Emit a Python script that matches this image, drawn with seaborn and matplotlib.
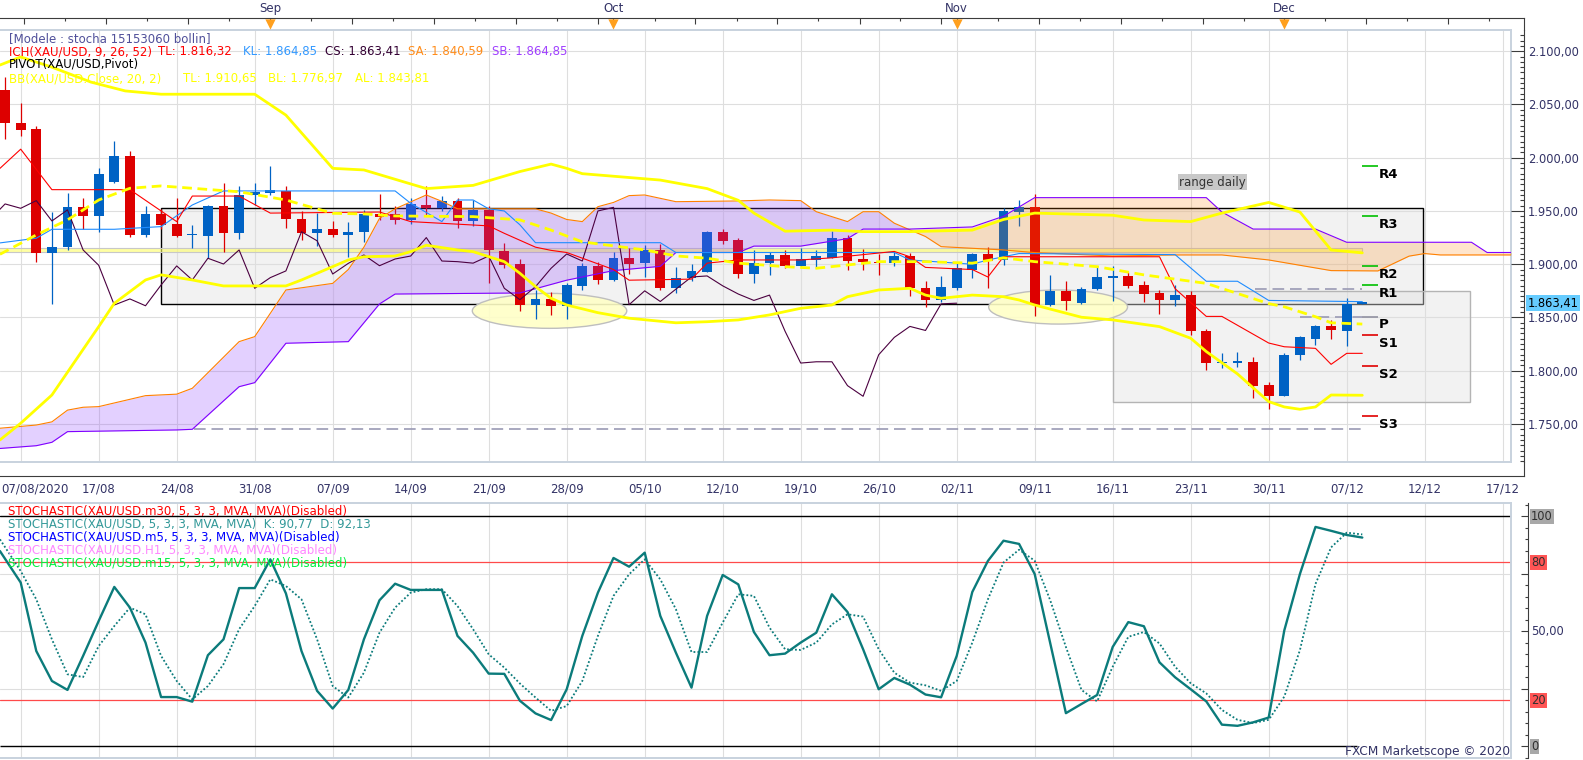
import numpy as np
import matplotlib
matplotlib.use("Agg")
import matplotlib.pyplot as plt
import matplotlib.transforms as mtrans
from matplotlib.patches import Rectangle, Ellipse
import seaborn as sns

# daily XAU/USD candles, index 0 = 07/08/2020, last = 08/12/2020
opens = [2063.6, 2032.9, 2027.0, 1910.8, 1915.9, 1953.3, 1944.8, 1977.5, 2001.6, 1927.5,
         1947.2, 1937.8, 1927.0, 1926.8, 1955.0, 1929.6, 1965.0, 1967.0, 1968.8, 1942.0,
         1929.6, 1932.7, 1927.5, 1930.6, 1946.8, 1946.8, 1941.5, 1955.6, 1952.5, 1959.7,
         1940.6, 1951.0, 1912.4, 1900.0, 1861.7, 1867.4, 1861.0, 1879.6, 1898.4, 1885.2,
         1905.6, 1900.8, 1913.4, 1877.4, 1886.8, 1893.0, 1930.5, 1922.8, 1890.8, 1900.8,
         1908.7, 1898.6, 1904.0, 1906.1, 1925.0, 1905.0, 1902.0, 1901.4, 1907.7, 1878.0,
         1866.7, 1878.0, 1894.6, 1909.6, 1904.0, 1949.4, 1953.4, 1862.0, 1875.0, 1864.0,
         1876.6, 1887.5, 1889.0, 1880.6, 1873.4, 1866.0, 1871.0, 1837.5, 1807.2, 1807.5,
         1808.4, 1787.0, 1776.0, 1814.4, 1830.0, 1841.6, 1837.5, 1862.9]
highs = [2076.2, 2051.0, 2030.0, 1949.0, 1966.5, 1962.5, 1990.8, 2016.0, 2006.0, 1954.7,
         1952.0, 1962.5, 1937.0, 1956.0, 1976.0, 1973.5, 1976.0, 1992.0, 1973.5, 1950.0,
         1947.8, 1941.0, 1940.0, 1951.0, 1966.0, 1955.0, 1962.5, 1973.0, 1964.0, 1962.5,
         1960.0, 1955.0, 1920.0, 1904.6, 1875.8, 1874.0, 1882.7, 1901.0, 1901.8, 1911.8,
         1915.0, 1918.0, 1919.0, 1897.7, 1900.0, 1931.0, 1933.0, 1925.0, 1913.4, 1911.8,
         1913.4, 1915.0, 1913.4, 1931.0, 1927.5, 1914.3, 1910.0, 1911.8, 1910.3, 1884.3,
         1889.0, 1900.9, 1910.9, 1916.0, 1952.5, 1960.0, 1965.6, 1890.0, 1884.4, 1879.0,
         1898.0, 1898.0, 1893.0, 1884.4, 1876.0, 1880.6, 1875.0, 1839.0, 1817.0, 1818.0,
         1813.0, 1789.0, 1817.0, 1832.2, 1843.0, 1848.0, 1868.0, 1863.6]
lows = [2017.6, 2020.0, 1902.0, 1863.0, 1913.0, 1933.0, 1930.5, 1976.0, 1926.0, 1926.0,
        1933.0, 1926.0, 1915.0, 1905.5, 1911.0, 1923.7, 1955.6, 1965.0, 1933.7, 1922.7,
        1917.5, 1926.0, 1906.4, 1921.0, 1941.5, 1938.0, 1937.8, 1945.0, 1950.0, 1933.7,
        1936.0, 1882.0, 1896.5, 1856.0, 1849.0, 1852.0, 1849.0, 1875.8, 1881.5, 1884.6,
        1890.8, 1888.0, 1875.8, 1873.3, 1884.0, 1893.0, 1919.0, 1887.4, 1882.7, 1889.9,
        1896.0, 1897.0, 1896.0, 1906.0, 1894.6, 1894.6, 1890.0, 1898.6, 1870.2, 1860.1,
        1864.8, 1875.8, 1887.4, 1877.4, 1899.4, 1936.0, 1851.0, 1861.0, 1857.0, 1862.5,
        1876.0, 1865.0, 1878.0, 1864.4, 1853.4, 1861.0, 1834.0, 1801.0, 1802.5, 1803.4,
        1774.0, 1764.0, 1776.0, 1810.3, 1824.4, 1829.7, 1822.8, 1862.9]
closes = [2032.3, 2026.0, 1910.8, 1916.0, 1953.3, 1944.8, 1985.0, 2001.6, 1927.5, 1947.2,
          1937.0, 1926.8, 1928.0, 1955.0, 1929.6, 1964.8, 1968.0, 1969.7, 1942.0, 1929.6,
          1932.7, 1927.5, 1930.6, 1946.8, 1944.7, 1941.5, 1956.6, 1952.5, 1959.7, 1940.6,
          1951.0, 1913.4, 1899.0, 1861.7, 1867.4, 1861.0, 1880.5, 1898.4, 1885.2, 1905.6,
          1900.2, 1913.4, 1877.4, 1887.4, 1893.7, 1930.5, 1922.0, 1890.8, 1900.8, 1908.7,
          1898.6, 1904.9, 1907.7, 1925.0, 1903.0, 1902.4, 1901.0, 1907.7, 1877.4, 1866.7,
          1878.9, 1896.2, 1909.6, 1903.0, 1950.0, 1953.4, 1862.0, 1875.0, 1865.0, 1876.6,
          1888.0, 1889.0, 1879.7, 1872.0, 1866.0, 1871.0, 1837.0, 1807.2, 1808.4, 1808.4,
          1786.0, 1776.0, 1815.0, 1831.3, 1841.6, 1837.8, 1862.8, 1863.41]

# ichimoku lines (day index, price)
tenkan_x = [-0.33, 1, 3, 8, 11, 12, 15, 17, 24, 26, 31, 32, 34, 35, 36, 39, 40, 44, 45, 47,
            51, 53, 57, 58, 59, 62, 63, 64, 74, 75, 77, 78, 81, 82, 84, 85, 86, 87]
tenkan_y = [1990, 2008, 1970, 1970, 1940, 1964, 1964, 1948, 1949, 1940, 1936, 1929, 1916, 1913,
            1911, 1895, 1885, 1886, 1901, 1904, 1904, 1906, 1912, 1907, 1897, 1895, 1888, 1907,
            1907, 1877, 1851, 1851, 1826, 1822.5, 1821, 1806, 1816.32, 1816.32]
kijun_x = [-0.33, 2, 3, 7, 10, 12, 14, 25, 26, 28, 29, 30, 31, 32, 33, 34, 42, 43, 57, 58,
           62, 63, 65, 75, 77, 79, 81, 87]
kijun_y = [1920, 1924.4, 1932.8, 1932.8, 1935.3, 1955.6, 1968.8, 1968.8, 1957.2, 1940,
           1960.3, 1960.3, 1952, 1950, 1937, 1920.2, 1920.2, 1911, 1911, 1904,
           1900, 1904, 1910, 1909, 1884, 1884, 1866, 1864.85]
span_a_x = [-0.33, 2, 3, 4, 5, 6, 9, 11, 12, 15, 16, 18, 21, 22, 23, 24, 25, 27, 28, 29,
            34, 35, 36, 37, 38, 39, 40, 41, 43, 47, 49, 51, 52, 54, 55, 56, 57, 59, 60, 64,
            66, 71, 75, 78, 81, 83, 85, 88, 90, 91, 92, 97]
span_a_y = [1746, 1749, 1752, 1763, 1765.7, 1766.3, 1776.6, 1778, 1783.5, 1827.3,
            1832, 1875.8, 1882, 1895, 1916, 1943, 1952, 1965, 1959, 1952,
            1952, 1948, 1942, 1940, 1954, 1958, 1964.4, 1965, 1958.7, 1959.4,
            1960.3, 1959.7, 1949.3, 1940, 1949.3, 1949.3, 1938.5, 1926, 1916.5, 1913.4,
            1910.9, 1907.7, 1908.7, 1908.7, 1904, 1899, 1894, 1893.7, 1907.6, 1910,
            1908.7, 1908.7]
span_b_x = [-0.33, 2, 3, 4, 11, 12, 15, 16, 18, 22, 24, 25, 33, 36, 39, 42, 43, 47, 48, 51,
            54, 55, 58, 62, 64, 66, 77, 78, 80, 84, 86, 94, 95, 97]
span_b_y = [1727, 1729.6, 1732.8, 1742.8, 1744.4, 1745, 1785, 1788.8, 1825.8, 1827.3,
            1862.7, 1872, 1873, 1885, 1894, 1898, 1911, 1911, 1917, 1917,
            1924, 1933, 1933, 1935, 1945, 1962.5, 1962.5, 1949, 1933, 1933,
            1920.6, 1920.6, 1911, 1911]

# bollinger bands (20, 2)
bb_up_x = [-0.33, 1, 3, 5.5, 7.7, 10, 16, 18, 21, 23, 27, 30, 33, 35, 36, 37, 42, 45, 47, 48,
           50, 53, 55, 58, 62, 64, 66, 71, 73, 76, 78, 81, 83, 85, 87]
bb_up_y = [2087, 2094.6, 2085, 2071, 2062.7, 2059.6, 2059.6, 2040, 1990, 1988.5,
           1971, 1974, 1987, 1994, 1990, 1985, 1979, 1971, 1960, 1948,
           1931, 1932, 1930.6, 1930.6, 1932, 1942, 1948, 1946, 1941.5, 1940,
           1948, 1958, 1949, 1913.4, 1910.65]
bb_lo_x = [-0.33, 1, 3, 6, 7, 9, 10, 12, 14, 18, 19, 22, 23, 25, 26, 27, 29, 30, 32, 33,
           34, 35, 36, 38, 40, 43, 45, 47, 49, 51, 53, 54, 56, 58, 59, 60, 61, 62, 64, 65,
           66, 69, 71, 74, 76, 77, 79, 81, 82, 83, 84, 85, 87]
bb_lo_y = [1735, 1750.7, 1777.2, 1841.4, 1863.3, 1885.2, 1890, 1885.2, 1879.6, 1879.6,
           1885.2, 1904, 1907, 1907.7, 1911.8, 1917.8, 1913.4, 1911.8, 1902.4, 1891.5,
           1879, 1868, 1861.7, 1854.5, 1849.3, 1845, 1846, 1847.7, 1852.4, 1858.6,
           1861.7, 1869.5, 1875.8, 1877.4, 1871, 1868, 1869.5, 1871, 1869.5, 1866.4,
           1861.7, 1850.2, 1847.7, 1841.4, 1830.5, 1818, 1797, 1771, 1766, 1763.8,
           1766, 1777.2, 1776.97]
bb_mid_x = [-0.33, 2, 4, 6, 8, 10, 15, 18, 21, 23, 25, 30, 33, 35, 37, 41, 43, 45, 47, 50,
            52, 54, 56, 59, 62, 64, 66, 70, 73, 77, 81, 82, 84, 85, 87]
bb_mid_y = [1909.3, 1927.5, 1941.6, 1960.3, 1971.3, 1973.5, 1968, 1960.3, 1947.8, 1947.2,
            1945.3, 1944.7, 1941.6, 1932, 1921, 1913.4, 1907.8, 1905.6, 1901, 1897.7,
            1896.2, 1899.3, 1902.4, 1902.4, 1901, 1906, 1902.4, 1897.7, 1890, 1882,
            1863, 1860, 1850.7, 1845, 1843.81]

# weekly pivot levels
pivot_names = ["R4", "R3", "R2", "R1", "P", "S1", "S2", "S3"]
pivot_vals = [1992.3, 1945.0, 1898.1, 1880.2, 1850.8, 1833.6, 1804.2, 1757.2]

# stochastic 5,3,3
stoch_x = [-0.33] + list(range(1, 88))
stoch_k = [84.9, 71.2, 41.4, 28.4, 24.5, 39.3, 54.5, 69.3, 60.3, 45.1,
           21.4, 21.4, 19.4, 39.6, 46.5, 68.8, 68.8, 81.3, 66.5, 41.4,
           24.1, 16.4, 24.5, 46.5, 63.5, 70.7, 68.0, 68.0, 68.0, 48.0,
           40.7, 31.6, 31.5, 19.8, 14.3, 11.4, 24.8, 48.0, 66.8, 81.9,
           78.1, 84.2, 56.7, 40.7, 25.5, 56.7, 74.5, 70.4, 49.7, 39.6,
           40.3, 45.1, 49.4, 66.1, 58.4, 42.2, 24.8, 29.7, 26.8, 22.5,
           21.3, 39.3, 67.1, 80.6, 89.4, 88.0, 74.9, 44.7, 14.4, 18.4,
           22.3, 43.2, 54.0, 52.2, 36.5, 30.0, 24.8, 19.5, 9.4, 8.9,
           10.4, 12.5, 50.4, 74.9, 95.4, 93.7, 91.9, 90.77]
stoch_d = [90.0, 76.2, 63.9, 46.5, 31.3, 30.1, 43.6, 52.3, 60.3, 57.4,
           39.3, 28.4, 20.4, 26.2, 35.7, 50.9, 61.0, 72.6, 69.7, 63.9,
           46.5, 26.2, 21.2, 32.0, 49.4, 60.3, 66.8, 68.3, 68.3, 61.0,
           50.9, 40.0, 34.2, 27.3, 21.2, 15.4, 17.5, 28.4, 48.0, 65.4,
           74.8, 81.3, 72.6, 59.6, 41.0, 41.0, 53.8, 66.1, 65.4, 51.6,
           42.2, 41.9, 45.1, 53.0, 57.4, 56.4, 42.2, 32.0, 27.7, 26.5,
           24.1, 28.4, 45.1, 63.9, 79.9, 85.5, 80.7, 63.4, 43.2, 24.5,
           19.5, 34.6, 47.6, 49.7, 44.7, 34.6, 27.4, 23.0, 15.8, 11.5,
           10.1, 11.5, 21.6, 41.8, 70.6, 86.5, 92.9, 92.13]

date_labels = ["07/08/2020", "17/08", "24/08", "31/08", "07/09", "14/09", "21/09", "28/09",
               "05/10", "12/10", "19/10", "26/10", "02/11", "09/11", "16/11", "23/11",
               "30/11", "07/12", "12/12", "17/12"]
month_names = ["Sep", "Oct", "Nov", "Dec"]
month_idx = [17, 39, 61, 82]

# drawn objects on the chart: (x0, x1, price0, price1)
range_box = (10.0, 90.9, 1862.6, 1953.1)
week_box = (71.0, 93.9, 1770.4, 1875.0)
# ellipses: (centre idx, centre price, width days, height price)
ellipses = [(34.9, 1856.2, 9.9, 32.8), (67.5, 1859.8, 8.9, 32.0)]

W, H = 1583, 760
sns.set_style("white")
plt.rcParams["font.family"] = ["DejaVu Sans"]
fig = plt.figure(figsize=(W / 100, H / 100), dpi=100)

TXT = "#333366"
AXC = "#3C3C3C"
FRAME = "#C8D2DE"
GRID = "#DEDEDE"
FS = 8.5


def box(x0, y0, x1, y1):
    return [x0 / W, 1 - y1 / H, (x1 - x0) / W, (y1 - y0) / H]


def ptext(x, y, s, **kw):
    kw.setdefault("va", "center")
    kw.setdefault("fontsize", FS)
    fig.text(x / W, 1 - y / H, s, **kw)


def line(a, xs, ys, color, lw, z, **kw):
    sns.lineplot(x=xs, y=ys, ax=a, color=color, lw=lw, estimator=None,
                 sort=False, zorder=z, **kw)


def eu(v):
    return f"{v:,.2f}".replace(",", "X").replace(".", ",").replace("X", ".")


X0 = -5.1 / 15.6
X1 = (1511 - 5.1) / 15.6
XR = (1524 - 5.1) / 15.6
PLO, PHI = 1714.3, 2119.9
week_ticks = [1 + 5 * k for k in range(20)]

# ---------------- price panel ----------------
ax = fig.add_axes(box(0, 30, 1511, 462))
ax.set_axisbelow(True)
ax.set_xticks(week_ticks)
ax.set_yticks(np.arange(1750, 2101, 50))
ax.set_xticklabels([])
ax.set_yticklabels([])
ax.tick_params(length=0)
ax.grid(True, color=GRID, lw=0.8)
for s in ax.spines.values():
    s.set_color(FRAME)
    s.set_linewidth(1.4)
ax.spines["left"].set_visible(False)

r = range_box
ax.add_patch(Rectangle((r[0], r[2]), r[1] - r[0], r[3] - r[2], fc=(0.88, 0.88, 0.88, 0.42),
                       ec="black", lw=1.0, zorder=1))
r = week_box
ax.add_patch(Rectangle((r[0], r[2]), r[1] - r[0], r[3] - r[2], fc=(0.88, 0.88, 0.88, 0.42),
                       ec="#B4B4B4", lw=1.0, zorder=1))
ax.add_patch(Rectangle((-1, 1911.6), 88, 3.8, fc=(1, 1, 0.4, 0.6), ec="#C8C8C8",
                       lw=0.8, zorder=1.2))
for cx, cy, ew, eh in ellipses:
    ax.add_patch(Ellipse((cx, cy), ew, eh, fc=(1, 1, 0.78, 0.9), ec="#BEBEBE", lw=1.0,
                         zorder=1.5))

dash = (0, (7, 3.5))
ax.hlines(1745, 12.1, 87, color="#9A9AB4", lw=1.2, linestyles=[dash], zorder=2)
ax.hlines(1876.5, 80.1, 87, color="#9A9AB4", lw=1.2, linestyles=[dash], zorder=2)
ax.hlines(1850.8, 83, 87, color="#9A9AB4", lw=1.2, linestyles=[dash], zorder=2)

# candles
idx = np.arange(len(closes))
o, c = np.array(opens), np.array(closes)
hi, lo = np.array(highs), np.array(lows)
col = np.where(c >= o, "#0062C4", "#DD0000")
ax.vlines(idx, lo, hi, colors=col, lw=0.9, zorder=3)
ax.bar(idx, np.maximum(np.abs(c - o), 1.2), bottom=np.minimum(o, c), width=0.64,
       color=col, lw=0, zorder=3)

# kumo
g = np.linspace(-1, 97, 3000)
sa = np.interp(g, span_a_x, span_a_y)
sb = np.interp(g, span_b_x, span_b_y)
ax.fill_between(g, sa, sb, where=sa >= sb, interpolate=True, color="#8C3CFF",
                alpha=0.24, lw=0, zorder=3.5)
ax.fill_between(g, sa, sb, where=sb > sa, interpolate=True, color="#FF8000",
                alpha=0.2, lw=0, zorder=3.5)

line(ax, span_a_x, span_a_y, "#FF8000", 0.8, 4)
line(ax, span_b_x, span_b_y, "#8000FF", 0.8, 4)
line(ax, list(idx[25:] - 26), closes[25:], "#4B0040", 0.8, 4)
line(ax, kijun_x, kijun_y, "#1E8CFF", 0.8, 4.1)
line(ax, tenkan_x, tenkan_y, "#FF0000", 0.8, 4.2)
line(ax, bb_up_x, bb_up_y, "#FFFF00", 2.0, 4.5)
line(ax, bb_lo_x, bb_lo_y, "#FFFF00", 2.0, 4.5)
line(ax, bb_mid_x, bb_mid_y, "#FFFF00", 2.0, 4.5, linestyle=(0, (3.5, 2)))

# pivots
for name, v in zip(pivot_names, pivot_vals):
    pc = "#00C000" if name.startswith("R") else ("#E00000" if name.startswith("S") else "#9090A0")
    ax.hlines(v, 87, 88, color=pc, lw=1.2, zorder=4)
    ax.text(88.07, v - 7.8, name, ha="left", va="center", fontsize=9.5, fontweight="bold",
            color="black", zorder=6)

ax.text(77.4, 1976.8, "range daily", ha="center", va="center", fontsize=FS, color="#333333",
        zorder=6, bbox=dict(fc="#C8C8C8", ec="none", pad=1.0))
ax.set_xlim(X0, X1)
ax.set_ylim(PLO, PHI)
ax.set_xlabel("")
ax.set_ylabel("")

# price scale
axr = fig.add_axes(box(1511, 30, 1524, 462))
axr.set_ylim(PLO, PHI)
axr.set_xticks([])
for s in ("left", "top", "bottom"):
    axr.spines[s].set_visible(False)
axr.spines["right"].set_color(AXC)
axr.yaxis.tick_right()
ylev = np.arange(1750, 2101, 50)
axr.set_yticks(ylev)
axr.set_yticklabels([eu(v) for v in ylev])
axr.set_yticks(np.arange(1715, 2120, 5), minor=True)
axr.tick_params(axis="y", which="major", direction="in", length=9.4, width=0.8, color=AXC,
                pad=3, labelsize=8.3, labelcolor=TXT)
axr.tick_params(axis="y", which="minor", direction="in", length=2.9, width=0.8, color=AXC)
axr.patch.set_alpha(0)
axr.text(1527.5 / W, closes[-1], eu(closes[-1]), ha="left", va="center", fontsize=8.3,
         color="black", transform=mtrans.blended_transform_factory(fig.transFigure, axr.transData),
         bbox=dict(fc="#66CCFF", ec="none", pad=1.0))

# date axis under price panel
axd = fig.add_axes(box(0, 462, 1524, 476))
axd.set_xlim(X0, XR)
axd.set_ylim(0, 1)
axd.set_yticks([])
for s in ("left", "top"):
    axd.spines[s].set_visible(False)
axd.spines["bottom"].set_color(AXC)
axd.spines["right"].set_color(AXC)
axd.set_xticks(week_ticks)
axd.set_xticklabels([""] + date_labels[1:])
axd.set_xticks(np.arange(-0.25, XR, 1.25), minor=True)
axd.tick_params(axis="x", which="major", direction="in", length=9.4, width=0.8, color=AXC,
                pad=5, labelsize=FS, labelcolor=TXT)
axd.tick_params(axis="x", which="minor", direction="in", length=3.6, width=0.8, color=AXC)
axd.patch.set_alpha(0)
ptext(1, 489, date_labels[0], ha="left", color=TXT)

# month axis on top
axt = fig.add_axes(box(0, 18.3, 1524, 30))
axt.set_xlim(X0, XR)
axt.set_ylim(0, 1)
axt.set_yticks([])
for s in ("left", "bottom"):
    axt.spines[s].set_visible(False)
axt.spines["top"].set_color(AXC)
axt.spines["right"].set_color(AXC)
step = 41 / 15.6
top_major, top_minor = [], []
j = 1
while month_idx[0] - j * step > X0:
    (top_major if j % 2 == 0 else top_minor).append(month_idx[0] - j * step)
    j += 1
for a, b in zip(month_idx, month_idx[1:] + [XR + 1]):
    j = 0
    while a + j * step < b - 0.6:
        (top_major if j % 2 == 0 else top_minor).append(a + j * step)
        j += 1
axt.xaxis.tick_top()
axt.set_xticks(top_major)
axt.set_xticks(top_minor, minor=True)
axt.set_xticklabels([])
axt.tick_params(axis="x", which="major", direction="in", length=4.3, width=0.8, color=AXC)
axt.tick_params(axis="x", which="minor", direction="in", length=2.2, width=0.8, color=AXC)
axt.patch.set_alpha(0)
for m, mi in zip(month_names, month_idx):
    axt.text(mi, 1.88, m, ha="center", va="center", fontsize=FS, color=TXT)
axt.scatter(month_idx, [0.5] * len(month_idx), marker="v", s=55, color="#FFA01E", lw=0,
            zorder=5, clip_on=False)

# legends, price panel
ptext(9, 39, "[Modele : stocha 15153060 bollin]", color="#50509A")
ptext(9, 51.7, "ICH(XAU/USD, 9, 26, 52)", color="#FF0000")
ptext(158, 51.7, "TL: " + eu(1816.32), color="#FF0000")
ptext(243.4, 51.7, "KL: " + eu(1864.85), color="#3399FF")
ptext(324.8, 51.7, "CS: " + eu(1863.41), color="#330033")
ptext(408.5, 51.7, "SA: " + eu(1840.59), color="#FF8C1A")
ptext(491.7, 51.7, "SB: " + eu(1864.85), color="#A040FF")
ptext(9, 64.3, "PIVOT(XAU/USD,Pivot)", color="black")
ptext(9, 78.7, "BB(XAU/USD.Close, 20, 2)", color="#FFFF00")
ptext(183, 78.7, "TL: " + eu(1910.65), color="#FFFF00")
ptext(268.5, 78.7, "BL: " + eu(1776.97), color="#FFFF00")
ptext(355.3, 78.7, "AL: " + eu(1843.81), color="#FFFF00")

# ---------------- stochastic panel ----------------
SLO, SHI = -5.1, 105.8
axs = fig.add_axes(box(0, 503, 1511, 758))
axs.set_axisbelow(True)
axs.set_xticks(week_ticks)
axs.set_yticks([25, 50, 75])
axs.set_xticklabels([])
axs.set_yticklabels([])
axs.tick_params(length=0)
axs.grid(True, color=GRID, lw=0.8)
for s in axs.spines.values():
    s.set_color(FRAME)
    s.set_linewidth(1.4)
axs.spines["left"].set_visible(False)
axs.axhline(100, color="black", lw=1.0, zorder=2)
axs.hlines(0, X0, 86.66, color="black", lw=1.0, zorder=2)
axs.axhline(80, color="#FF4A4A", lw=0.9, zorder=2)
axs.axhline(20, color="#FF4A4A", lw=0.9, zorder=2)
line(axs, stoch_x, stoch_d, "#0B7B7B", 1.3, 4, linestyle=(0, (1, 1.2)))
line(axs, stoch_x, stoch_k, "#0B7B7B", 1.7, 4.2)
axs.set_xlim(X0, X1)
axs.set_ylim(SLO, SHI)
axs.set_xlabel("")
axs.set_ylabel("")

axsr = fig.add_axes(box(1511, 503, 1528, 758))
axsr.set_ylim(SLO, SHI)
axsr.set_xticks([])
for s in ("left", "top", "bottom"):
    axsr.spines[s].set_visible(False)
axsr.spines["right"].set_color(AXC)
axsr.yaxis.tick_right()
axsr.set_yticks([0, 25, 50, 75, 100])
axsr.set_yticklabels([])
axsr.set_yticks(np.arange(-5, 106, 5), minor=True)
axsr.tick_params(axis="y", which="major", direction="in", length=5.0, width=0.8, color=AXC)
axsr.tick_params(axis="y", which="minor", direction="in", length=2.2, width=0.8, color=AXC)
axsr.patch.set_alpha(0)
tr = mtrans.blended_transform_factory(fig.transFigure, axsr.transData)
for v, s, fc in [(100, "100", "#A8A8A8"), (80, "80", "#FF5555"), (50, "50,00", None),
                 (20, "20", "#FF5555"), (0, "0", "#A8A8A8")]:
    kw = dict(bbox=dict(fc=fc, ec="none", pad=0.8)) if fc else {}
    axsr.text(1531 / W, v, s, transform=tr, ha="left", va="center", fontsize=8.3,
              color="#303030" if fc else TXT, **kw)

ptext(8.3, 511, "STOCHASTIC(XAU/USD.m30, 5, 3, 3, MVA, MVA)(Disabled)", color="#FF0000")
ptext(8.3, 524, "STOCHASTIC(XAU/USD, 5, 3, 3, MVA, MVA)  K: 90,77  D: 92,13", color="#339999")
ptext(8.3, 537, "STOCHASTIC(XAU/USD.m5, 5, 3, 3, MVA, MVA)(Disabled)", color="#0000FF")
ptext(8.3, 550, "STOCHASTIC(XAU/USD.H1, 5, 3, 3, MVA, MVA)(Disabled)", color="#FF88FF")
ptext(8.3, 563, "STOCHASTIC(XAU/USD.m15, 5, 3, 3, MVA, MVA)(Disabled)", color="#00F040")
ptext(1510, 751.5, "FXCM Marketscope \u00a9 2020", ha="right", color=TXT, fontsize=8.7)

fig.savefig("out.png", dpi=100)
